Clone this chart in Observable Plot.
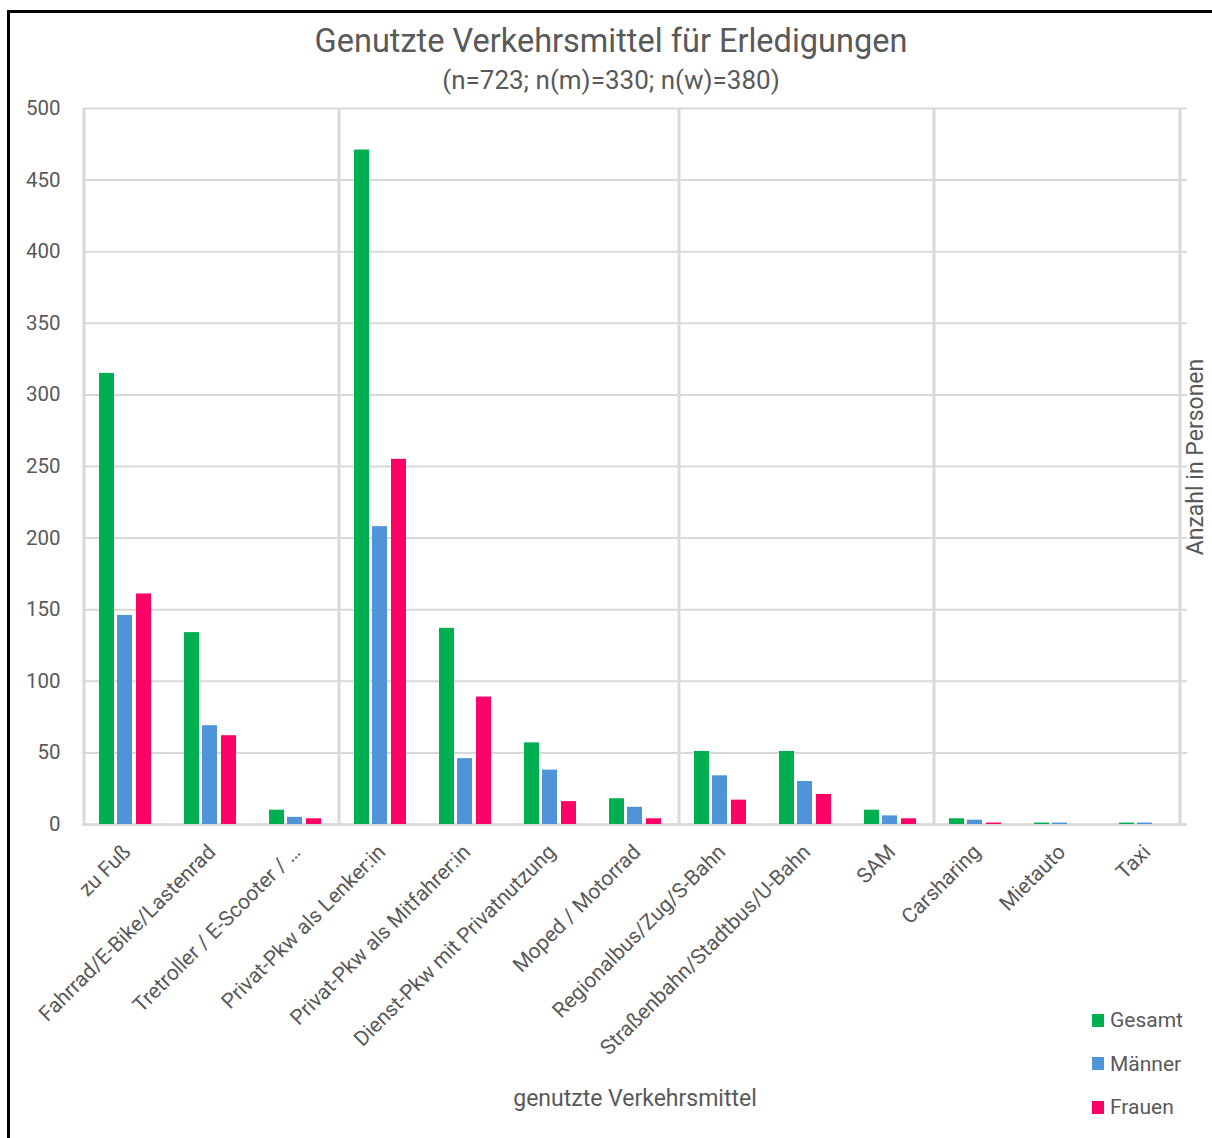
<!DOCTYPE html>
<html>
<head>
<meta charset="utf-8">
<script src="https://cdn.jsdelivr.net/npm/d3@7"></script>
<script src="https://cdn.jsdelivr.net/npm/@observablehq/plot@0.6"></script>
<style>
  html, body { margin: 0; padding: 0; background: #fff; }
  #page { position: relative; width: 1212px; height: 1138px; overflow: hidden; font-family: Roboto, sans-serif; color: #595959; }
  #border { position: absolute; left: 7px; top: 10px; width: 1220px; height: 1200px; border: 3px solid #000; box-sizing: border-box; }
  #chart { position: absolute; left: 0; top: 0; }
  .t { position: absolute; white-space: nowrap; line-height: 1; }
  #title { left: 0; width: 1222px; text-align: center; top: 25px; font-size: 32.5px; }
  #subtitle { left: 0; width: 1222px; text-align: center; top: 67px; font-size: 26px; }
  #xtitle { left: 0; width: 1270px; text-align: center; top: 1087px; font-size: 23px; }
  #ytitle { left: 1195px; top: 457px; font-size: 23px; transform: translate(-50%, -50%) rotate(-90deg); }
  #legend { position: absolute; left: 1092px; top: 1008px; font-size: 21px; }
  .li { display: flex; align-items: center; height: 24px; margin-bottom: 19.5px; }
  .sw { width: 12px; height: 13px; margin-right: 6px; }
</style>
</head>
<body>
<div id="page">
  <div id="border"></div>
  <div id="chart"></div>
  <div class="t" id="title">Genutzte Verkehrsmittel für Erledigungen</div>
  <div class="t" id="subtitle">(n=723; n(m)=330; n(w)=380)</div>
  <div class="t" id="xtitle">genutzte Verkehrsmittel</div>
  <div class="t" id="ytitle">Anzahl in Personen</div>
  <div id="legend"></div>
</div>
<script>
// ---- data ----
const categories = [
  "zu Fuß",
  "Fahrrad/E-Bike/Lastenrad",
  "Tretroller / E-Scooter / …",
  "Privat-Pkw als Lenker:in",
  "Privat-Pkw als Mitfahrer:in",
  "Dienst-Pkw mit Privatnutzung",
  "Moped / Motorrad",
  "Regionalbus/Zug/S-Bahn",
  "Straßenbahn/Stadtbus/U-Bahn",
  "SAM",
  "Carsharing",
  "Mietauto",
  "Taxi"
];
const gesamt  = [315, 134, 10, 471, 137, 57, 18, 51, 51, 10, 4, 1, 1];
const maenner = [146,  69,  5, 208,  46, 38, 12, 34, 30,  6, 3, 1, 1];
const frauen  = [161,  62,  4, 255,  89, 16,  4, 17, 21,  4, 1, 0, 0];
const seriesNames = ["Gesamt", "Männer", "Frauen"];
const seriesColors = ["#00B050", "#4F94D8", "#FF0066"];
const yTicks = [0, 50, 100, 150, 200, 250, 300, 350, 400, 450, 500];
const groupStarts = ["zu Fuß", "Privat-Pkw als Lenker:in", "Regionalbus/Zug/S-Bahn", "Carsharing"];

// ---- table ----
const seriesValues = [gesamt, maenner, frauen];
const rows = [];
seriesNames.forEach((s, si) => categories.forEach((c, ci) => rows.push({cat: c, series: s, value: seriesValues[si][ci]})));

const insets = [[17, 53], [35, 35], [54, 16]];
const barMarks = seriesNames.map((s, si) =>
  Plot.barY(rows.filter(d => d.series === s), {
    x: "cat", y: "value", fill: seriesColors[si],
    insetLeft: insets[si][0], insetRight: insets[si][1]
  })
);

const grid = "#d9d9d9";
const chart = Plot.plot({
  width: 1212,
  height: 1138,
  marginTop: 108,
  marginBottom: 314,
  marginLeft: 82,
  marginRight: 25,
  style: {fontFamily: "Roboto, sans-serif", fontSize: "20px", color: "#595959", background: "transparent"},
  x: {domain: categories, padding: 0},
  y: {domain: [0, 500]},
  marks: [
    Plot.gridY(yTicks, {stroke: grid, strokeOpacity: 1, strokeWidth: 2}),
    Plot.ruleX(groupStarts, {x: d => d, dx: -41, y1: 0, y2: 500, stroke: grid, strokeWidth: 3}),
    Plot.ruleX(["Taxi"], {x: d => d, dx: 35, y1: 0, y2: 500, stroke: grid, strokeWidth: 3}),
    Plot.ruleY([0], {stroke: grid, strokeWidth: 2.5}),
    ...barMarks,
    Plot.axisY(yTicks, {tickSize: 0, tickPadding: 22, label: null, fontSize: 20.5}),
    Plot.axisX({tickSize: 0, tickRotate: -45, tickPadding: 24, dx: 2, label: null, fontSize: 21})
  ]
});
document.getElementById("chart").appendChild(chart);

// ---- legend ----
const leg = document.getElementById("legend");
seriesNames.forEach((s, i) => {
  const row = document.createElement("div");
  row.className = "li";
  row.innerHTML = `<div class="sw" style="background:${seriesColors[i]}"></div><span>${s}</span>`;
  leg.appendChild(row);
});
</script>
</body>
</html>
